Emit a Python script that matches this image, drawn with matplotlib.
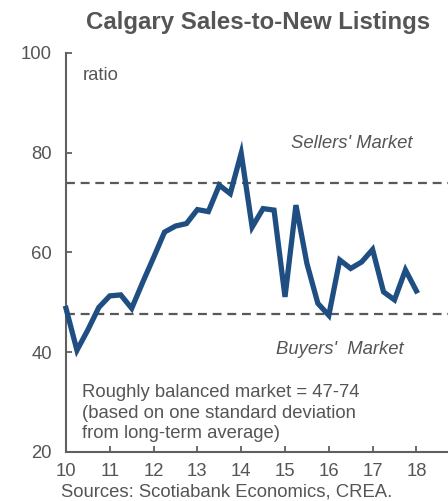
import matplotlib
matplotlib.use("Agg")
import matplotlib.pyplot as plt
import numpy as np

plt.rcParams['font.family'] = ['Liberation Sans', 'DejaVu Sans']

# Quarterly sales-to-new-listings ratio, 2010Q1 .. 2018Q1
ratio = [48.8, 40.4, 44.5, 49.0, 51.3, 51.5, 48.8, 54.0,
         59.0, 64.1, 65.3, 65.8, 68.6, 68.2, 73.5, 71.8,
         79.9, 65.1, 68.8, 68.5, 51.1, 69.5, 57.8, 49.8,
         47.4, 58.5, 56.8, 58.1, 60.6, 52.1, 50.5, 56.5, 52.3]
start_year = 10
sellers_threshold = 74
buyers_threshold = 47.7
x_ticks = [10, 11, 12, 13, 14, 15, 16, 17, 18]
y_ticks = [20, 40, 60, 80, 100]

years = start_year + np.arange(len(ratio)) * 0.25

W, H = 448, 501
fig = plt.figure(figsize=(W / 100, H / 100), dpi=100)
AX_L, AX_R, AX_T, AX_B = 66, 448, 53, 452
ax = fig.add_axes([AX_L / W, (H - AX_B) / H, (AX_R - AX_L) / W, (AX_B - AX_T) / H])

def ax_xy(px, py):
    return (px - AX_L) / (AX_R - AX_L), 1 - (py - AX_T) / (AX_B - AX_T)

txt = '#555555'
fs = 13.3
ax.plot(years, ratio, color='#1f4e82', lw=3.8, solid_joinstyle='miter', zorder=3, clip_on=False)
ax.axhline(sellers_threshold, color='#595959', lw=1.6, ls=(0, (4, 2.6)), zorder=2)
ax.axhline(buyers_threshold, color='#595959', lw=1.6, ls=(0, (4, 2.6)), zorder=2)

ax.set_xlim(10, 10 + (AX_R - AX_L) / 43.8)
ax.set_ylim(20, 100)
ax.set_xticks(x_ticks)
ax.set_yticks(y_ticks)
ax.set_xticklabels([str(v) for v in x_ticks])
ax.set_yticklabels([str(v) for v in y_ticks])

for s in ['top', 'right']:
    ax.spines[s].set_visible(False)
for s in ['left', 'bottom']:
    ax.spines[s].set_color('#606060')
    ax.spines[s].set_linewidth(1.5)
ax.tick_params(axis='both', direction='in', length=4, width=1.3, color='#606060',
               labelsize=fs, labelcolor=txt)
ax.tick_params(axis='y', pad=10)
ax.tick_params(axis='x', pad=8)

fig.text(258 / W, 1 - 23 / H, 'Calgary Sales-to-New Listings', ha='center', va='center',
         fontsize=17.3, fontweight='bold', color=txt)
ax.text(*ax_xy(83, 76), 'ratio', transform=ax.transAxes, ha='left', va='center',
        fontsize=fs, color=txt)
ax.text(*ax_xy(352, 143), "Sellers' Market", transform=ax.transAxes, ha='center', va='center',
        fontsize=fs, style='italic', color=txt)
ax.text(*ax_xy(340, 350), "Buyers'  Market", transform=ax.transAxes, ha='center', va='center',
        fontsize=fs, style='italic', color=txt)
ax.text(*ax_xy(82, 413), 'Roughly balanced market = 47-74\n(based on one standard deviation\nfrom long-term average)',
        transform=ax.transAxes, ha='left', va='center', fontsize=fs, color=txt, linespacing=1.28)
fig.text(227 / W, 1 - 492 / H, 'Sources: Scotiabank Economics, CREA.', ha='center', va='center',
         fontsize=fs, color=txt)

fig.savefig('out.png', dpi=100)
